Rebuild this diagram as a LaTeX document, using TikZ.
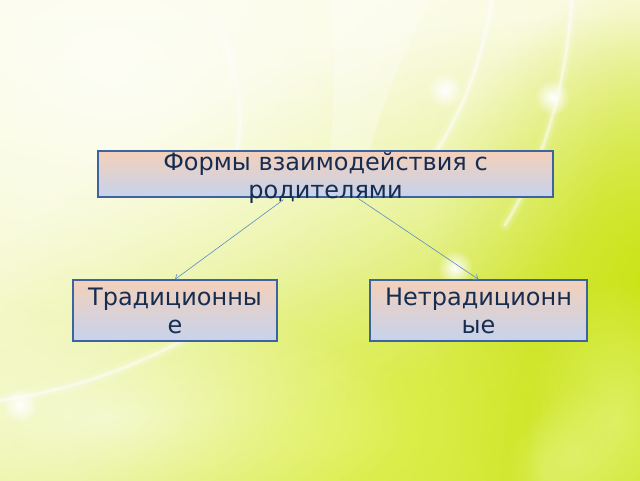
\documentclass[tikz,border=0pt]{standalone}
\usepackage{fontspec}
\setmainfont{DejaVu Sans}
\usetikzlibrary{fadings,arrows.meta,calc}
\tikzfading[name=glow, inner color=transparent!0, outer color=transparent!100]
\definecolor{bgtop}{RGB}{250,250,222}
\definecolor{bgbot}{RGB}{238,245,168}
\definecolor{lime}{RGB}{202,228,22}
\definecolor{limeL}{RGB}{222,240,80}
\definecolor{petal}{RGB}{230,245,130}
\definecolor{boxtop}{RGB}{244,208,186}
\definecolor{boxbot}{RGB}{198,211,236}
\definecolor{boxline}{RGB}{62,100,160}
\definecolor{txtc}{RGB}{22,45,82}
\definecolor{connc}{RGB}{90,140,200}
\begin{document}
\begin{tikzpicture}[x=1pt,y=-1pt,
  box/.style={draw=boxline, line width=1.3pt, top color=boxtop, bottom color=boxbot,
    inner sep=0pt, text=txtc, font=\fontsize{24}{28}\selectfont, align=center},
  boxtext/.style={inner sep=0pt, text=txtc, font=\fontsize{24}{28}\selectfont, align=center},
  conn/.style={draw=connc, line width=0.6pt, -{Straight Barb[length=4pt,width=6pt]}},
  streak/.style={white, line cap=round}]
% background
\shade[top color=bgtop, bottom color=bgbot] (0,0) rectangle (640,480);
\begin{scope}
\clip (0,0) rectangle (640,480);
\fill[lime, path fading=glow] (560,440) ellipse [x radius=620, y radius=420];
\fill[lime, path fading=glow] (650,280) ellipse [x radius=220, y radius=300];
\fill[limeL, path fading=glow] (330,430) ellipse [x radius=260, y radius=160];
\fill[white, path fading=glow, opacity=0.75] (110,70) ellipse [x radius=520, y radius=380];
\fill[white, path fading=glow, opacity=0.6] (110,420) ellipse [x radius=300, y radius=120];
% light streaks
\foreach \w/\o in {12/0.12,6/0.2,2.5/0.45}{
  \draw[streak, line width=\w pt, opacity=\o] (0,400) .. controls (80,390) and (160,360) .. (250,300);
  \draw[streak, line width=\w pt, opacity=\o] (215,20) .. controls (240,70) and (245,120) .. (235,160);
  \draw[streak, line width=\w pt, opacity=\o] (492,0) .. controls (480,70) and (460,120) .. (420,175);
  \draw[streak, line width=\w pt, opacity=\o] (572,0) .. controls (565,90) and (545,160) .. (505,225);
}
\fill[white, opacity=0.3] (330,0) -- (430,0) .. controls (400,60) and (380,110) .. (370,150) -- (330,150) .. controls (335,100) and (335,50) .. (330,0) -- cycle;
\foreach \p in {(445,90),(552,97),(455,268),(20,405)}{
  \fill[white, path fading=glow] \p circle (18);
}
% soft petals bottom right
\fill[petal, path fading=glow, opacity=0.7] (615,420) ellipse [x radius=90, y radius=140];
\fill[petal, path fading=glow, opacity=0.6] (575,455) ellipse [x radius=50, y radius=70];
\fill[petal, path fading=glow, opacity=0.5] (545,470) ellipse [x radius=40, y radius=60];
\end{scope}
% diagram
\node[box, minimum width=455pt, minimum height=46pt] (top) at (325.5,174) {};
\node[boxtext] (toptext) at (325.5,178) {Формы взаимодействия с\\родителями};
\node[box, minimum width=204pt, minimum height=61pt] (left) at (175,310.5) {Традиционны\\е};
\node[box, minimum width=217pt, minimum height=61pt] (right) at (478.5,310.5) {Нетрадиционн\\ые};
\draw[conn] ($(top.south)+(-42,2)$) -- (left.north);
\draw[conn] ($(top.south)+(33,1)$) -- (right.north);
\end{tikzpicture}
\end{document}
